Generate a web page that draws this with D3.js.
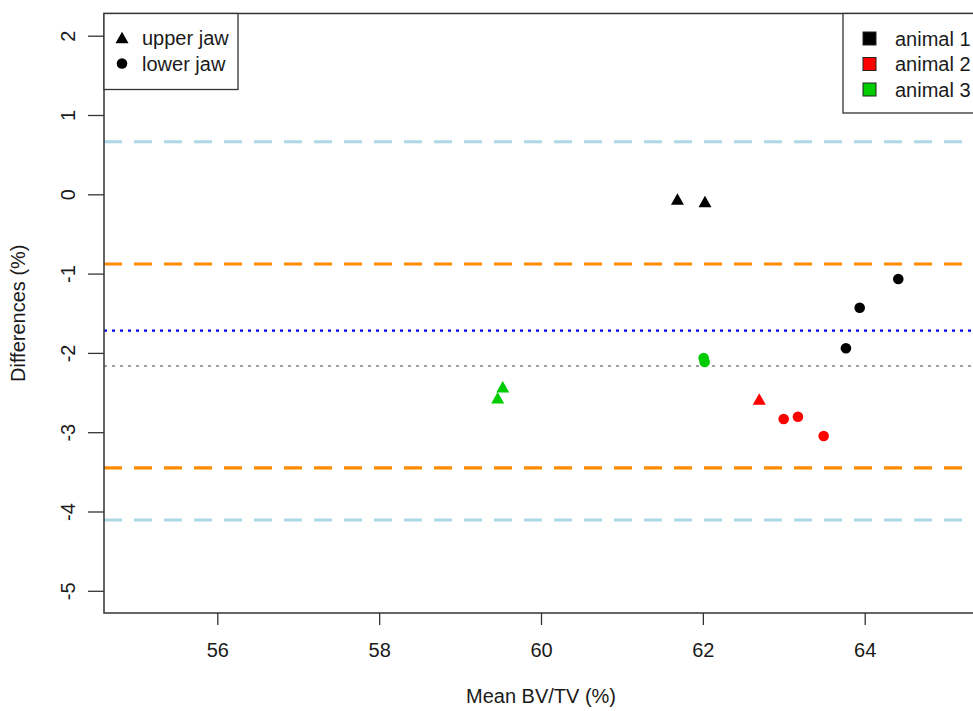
<!DOCTYPE html>
<html><head><meta charset="utf-8">
<script src="https://cdn.jsdelivr.net/npm/d3@7"></script>
<style>body{margin:0;background:#fff;} svg{display:block;}</style>
</head><body>
<svg id="c" width="973" height="711"></svg>
<script>
// ---- data ----
const animals = ["animal 1", "animal 2", "animal 3"];
const animalColors = ["#000000", "#ff0000", "#00cd00"];
const jaws = ["upper jaw", "lower jaw"];

const upperMean = [61.686, 62.026, 62.697, 59.527, 59.465];
const upperDiff = [-0.059, -0.091, -2.581, -2.426, -2.565];
const upperAnimal = [0, 0, 1, 2, 2];

const lowerMean = [63.768, 63.938, 64.415, 62.999, 63.175, 63.493, 62.010, 62.022];
const lowerDiff = [-1.942, -1.430, -1.068, -2.834, -2.805, -3.048, -2.064, -2.115];
const lowerAnimal = [0, 0, 0, 1, 1, 1, 2, 2];

const refValues = [0.663, -0.879, -1.72, -2.165, -3.451, -4.107];
const refKinds = ["lightblue", "orange", "blue", "grey", "orange", "lightblue"];

const xTicks = [56, 58, 60, 62, 64];
const yTicks = [2, 1, 0, -1, -2, -3, -4, -5];
const xLim = [55, 65];
const yLim = [-5, 2];

// ---- layout ----
const svg = d3.select("#c");
const font = "'Liberation Sans', Arial, sans-serif";
const textCol = "#1a1a1a";
const L = 104, R = 978, T = 13.5, B = 613;
const xPad = (xLim[1] - xLim[0]) * 0.04, yPad = (yLim[1] - yLim[0]) * 0.04;
const x = d3.scaleLinear().domain([xLim[0] - xPad, xLim[1] + xPad]).range([L, R]);
const y = d3.scaleLinear().domain([yLim[0] - yPad, yLim[1] + yPad]).range([B, T]);
const fmt = d => String(d);

const styles = {
  lightblue: {stroke: "#add8e6", w: 3.2, dash: "18,12"},
  orange: {stroke: "#ff8c00", w: 3.2, dash: "18,12"},
  blue: {stroke: "#0000ff", w: 2.2, dash: "3,5"},
  grey: {stroke: "#a0a0a0", w: 2, dash: "3,5"}
};

// reference lines
const gRef = svg.append("g");
refValues.forEach((v, i) => {
  const s = styles[refKinds[i]];
  gRef.append("line").attr("x1", L).attr("x2", R).attr("y1", y(v)).attr("y2", y(v))
    .attr("stroke", s.stroke).attr("stroke-width", s.w).attr("stroke-dasharray", s.dash);
});

// axes
const xAxis = d3.axisBottom(x).tickValues(xTicks).tickSize(12).tickFormat(fmt);
const gx = svg.append("g").attr("transform", `translate(0,${B})`).call(xAxis);
gx.select(".domain").remove();
gx.selectAll("line").attr("stroke", "#333").attr("stroke-width", 1.3);
gx.selectAll("text").attr("font-family", font).attr("font-size", 20).attr("fill", textCol)
  .attr("dy", null).attr("y", 44);

const yAxis = d3.axisLeft(y).tickValues(yTicks).tickSize(16).tickFormat(fmt);
const gy = svg.append("g").attr("transform", `translate(${L},0)`).call(yAxis);
gy.select(".domain").remove();
gy.selectAll("line").attr("stroke", "#333").attr("stroke-width", 1.3);
gy.selectAll("text").attr("font-family", font).attr("font-size", 20).attr("fill", textCol)
  .attr("x", null).attr("dy", null).attr("text-anchor", "middle")
  .attr("transform", "translate(-29,0) rotate(-90)");

// frame
svg.append("rect").attr("x", L).attr("y", T).attr("width", R - L).attr("height", B - T)
  .attr("fill", "none").attr("stroke", "#333").attr("stroke-width", 1.5);

// axis titles
svg.append("text").attr("x", (L + 978) / 2).attr("y", 703).attr("text-anchor", "middle")
  .attr("font-family", font).attr("font-size", 20).attr("fill", textCol).text("Mean BV/TV (%)");
svg.append("text").attr("transform", `translate(25,${y(-1.5)}) rotate(-90)`).attr("text-anchor", "middle")
  .attr("font-family", font).attr("font-size", 20).attr("fill", textCol).text("Differences (%)");

// symbols
function tri(cx, cy, w, h) {
  return `M${cx},${cy - h / 2}L${cx + w / 2},${cy + h / 2}L${cx - w / 2},${cy + h / 2}Z`;
}
const gp = svg.append("g");
upperMean.forEach((m, i) => {
  gp.append("path").attr("d", tri(x(m), y(upperDiff[i]), 13, 11.5)).attr("fill", animalColors[upperAnimal[i]]);
});
lowerMean.forEach((m, i) => {
  gp.append("circle").attr("cx", x(m)).attr("cy", y(lowerDiff[i])).attr("r", 5.3).attr("fill", animalColors[lowerAnimal[i]]);
});

// legend 1 (jaw)
const lg1 = svg.append("g");
lg1.append("rect").attr("x", L).attr("y", T).attr("width", 134).attr("height", 76)
  .attr("fill", "#fff").attr("stroke", "#333").attr("stroke-width", 1.3);
const rowsY = [37.5, 63.5];
lg1.append("path").attr("d", tri(122, rowsY[0], 13, 11.5)).attr("fill", "#000");
lg1.append("circle").attr("cx", 122).attr("cy", rowsY[1]).attr("r", 5.3).attr("fill", "#000");
jaws.forEach((t, i) => {
  lg1.append("text").attr("x", 142).attr("y", rowsY[i] + 7).attr("font-family", font).attr("font-size", 20)
    .attr("fill", textCol).text(t);
});

// legend 2 (animals)
const lg2 = svg.append("g");
lg2.append("rect").attr("x", 843).attr("y", T).attr("width", 140).attr("height", 99.5)
  .attr("fill", "#fff").attr("stroke", "#333").attr("stroke-width", 1.3);
const rows2 = [38.5, 64, 89.5];
animals.forEach((t, i) => {
  lg2.append("rect").attr("x", 863).attr("y", rows2[i] - 6.5).attr("width", 13).attr("height", 13)
    .attr("fill", animalColors[i]).attr("stroke", "#222").attr("stroke-width", 1);
  lg2.append("text").attr("x", 895).attr("y", rows2[i] + 7).attr("font-family", font).attr("font-size", 20)
    .attr("fill", textCol).text(t);
});
</script>
</body></html>
